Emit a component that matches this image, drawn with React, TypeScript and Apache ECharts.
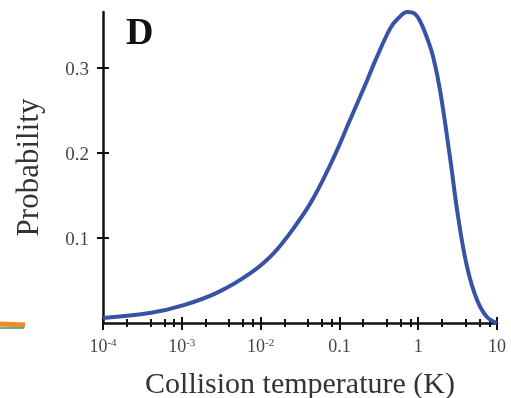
import React, { useEffect, useRef } from "react";
import * as echarts from "echarts";

const temperatureK = [1e-4, 4.07e-4, 1.06e-3, 2.86e-3, 7.5e-3, 0.0146, 0.0294, 0.0468, 0.084, 0.138, 0.226, 0.286, 0.443, 0.55, 0.727, 0.9, 1.06, 1.3, 1.55, 1.9, 2.54, 3.21, 4.17, 5.58, 7.46, 10];
const probability = [0.006, 0.012, 0.021, 0.036, 0.059, 0.082, 0.118, 0.147, 0.194, 0.24, 0.286, 0.309, 0.347, 0.358, 0.366, 0.364, 0.355, 0.335, 0.313, 0.273, 0.194, 0.125, 0.066, 0.027, 0.007, 0];
const majorTicks = [1e-4, 1e-3, 1e-2, 0.1, 1, 10];
const minorTicks = [2e-4, 4e-4, 6e-4, 8e-4, 2e-3, 4e-3, 6e-3, 8e-3, 0.02, 0.04, 0.06, 0.08, 0.2, 0.4, 0.6, 0.8, 2, 4, 6, 8];
const yTicks = [0.1, 0.2, 0.3];
const xLabels: Record<string, string> = {
  "0.0001": "{a|10}{s|-4}",
  "0.001": "{a|10}{s|-3}",
  "0.01": "{a|10}{s|-2}",
  "0.1": "{a|0.1}",
  "1": "{a|1}",
  "10": "{a|10}",
};

const FONT = "Liberation Serif";
const X_MIN = 1e-4;
const X_MAX = 10;
const Y_MAX = 0.366;

export default function App() {
  const ref = useRef<HTMLDivElement>(null);
  useEffect(() => {
    if (!ref.current) return;
    const chart = echarts.init(ref.current, null, { renderer: "svg" });
    const tickAxisX = (values: number[], len: number, inside: boolean) => ({
      type: "log",
      logBase: 10,
      min: X_MIN,
      max: X_MAX,
      position: "bottom",
      gridIndex: 0,
      axisLine: { show: false },
      axisLabel: { show: false },
      splitLine: { show: false },
      axisTick: { show: true, inside, length: len, customValues: values, lineStyle: { color: "#111", width: 2 } },
    });
    chart.setOption({
      animation: false,
      grid: { left: 103, right: 14, top: 12, bottom: 75, containLabel: false, outerBoundsMode: "none" },
      xAxis: [
        {
          type: "log",
          logBase: 10,
          min: X_MIN,
          max: X_MAX,
          position: "bottom",
          name: "Collision temperature (K)",
          nameLocation: "middle",
          nameGap: 44,
          nameTextStyle: { fontFamily: FONT, fontSize: 30, color: "#333" },
          axisLine: { show: true, lineStyle: { color: "#111", width: 2.5 } },
          axisTick: { show: true, length: 7, customValues: majorTicks, lineStyle: { color: "#111", width: 2 } },
          splitLine: { show: false },
          axisLabel: {
            margin: 13,
            customValues: majorTicks,
            formatter: (v: number) => xLabels[String(v)] ?? String(v),
            rich: {
              a: { fontFamily: FONT, fontSize: 18, color: "#444", lineHeight: 20 },
              s: { fontFamily: FONT, fontSize: 11, color: "#444", lineHeight: 20, verticalAlign: "top", padding: [0, 0, 9, 0] },
            },
          },
        },
        tickAxisX(majorTicks, 6, true),
        tickAxisX(minorTicks, 4, false),
        tickAxisX(minorTicks, 4, true),
      ],
      yAxis: [
        {
          type: "value",
          min: 0,
          max: Y_MAX,
          position: "left",
          name: "Probability",
          nameLocation: "middle",
          nameGap: 60,
          nameTextStyle: { fontFamily: FONT, fontSize: 31, color: "#333" },
          axisLine: { show: true, lineStyle: { color: "#111", width: 2.5 } },
          axisTick: { show: true, length: 6, customValues: yTicks, lineStyle: { color: "#111", width: 2 } },
          splitLine: { show: false },
          axisLabel: { margin: 14, customValues: yTicks, fontFamily: FONT, fontSize: 19, color: "#444" },
        },
        {
          type: "value",
          min: 0,
          max: Y_MAX,
          position: "left",
          axisLine: { show: false },
          axisLabel: { show: false },
          splitLine: { show: false },
          axisTick: { show: true, inside: true, length: 6, customValues: yTicks, lineStyle: { color: "#111", width: 2 } },
        },
      ],
      graphic: [
        { type: "text", left: 126, top: 12, style: { text: "D", font: `bold 38px "${FONT}"`, fill: "#111" } },
        { type: "line", shape: { x1: 0, y1: 324, x2: 25, y2: 325 }, style: { stroke: "#f08a24", lineWidth: 5 } },
        { type: "line", shape: { x1: 0, y1: 328, x2: 24, y2: 328 }, style: { stroke: "#3a9a5a", lineWidth: 1.5 } },
      ],
      series: [
        {
          type: "line",
          xAxisIndex: 0,
          yAxisIndex: 0,
          data: temperatureK.map((t, i) => [t, probability[i]]),
          showSymbol: false,
          smooth: 0.4,
          clip: false,
          lineStyle: { color: "#3852a6", width: 4 },
        },
      ],
    });
    return () => chart.dispose();
  }, []);
  return <div ref={ref} style={{ position: "fixed", left: 0, top: 0, width: 511, height: 398 }} />;
}
